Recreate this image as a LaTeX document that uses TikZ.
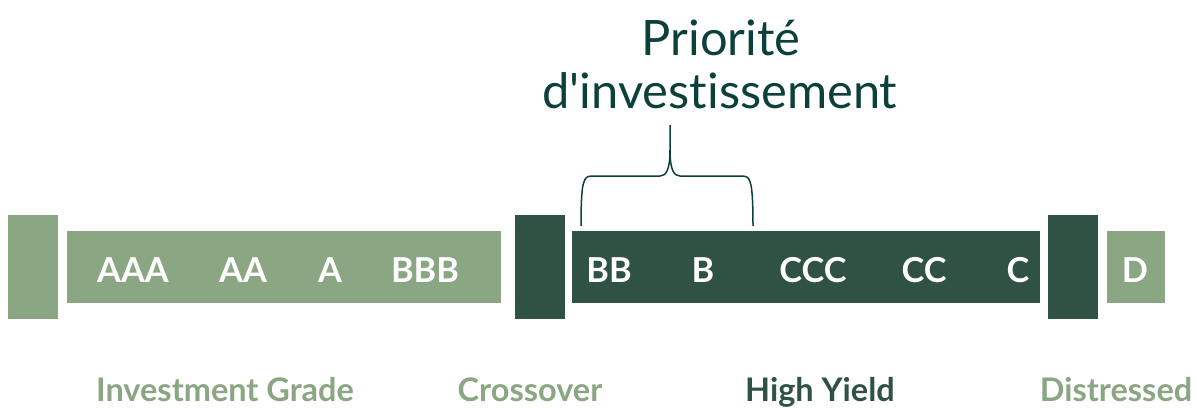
\documentclass[tikz,border=0pt]{standalone}
\usepackage{fontspec}
\setmainfont{Lato}
\newfontfamily\titlefont{Lato}[Ligatures={ResetAll,NoCommon}]
\definecolor{lightg}{HTML}{8AA682}
\definecolor{darkg}{HTML}{2F5244}
\definecolor{titlec}{HTML}{0B403B}
\begin{document}
\begin{tikzpicture}[x=1bp,y=-1bp,
  bar/.style={draw=none,inner sep=0pt,anchor=north west},
  rating/.style={text=white,font=\fontsize{34.5}{40}\selectfont\bfseries,anchor=base,inner sep=0pt},
  grp/.style={font=\fontsize{32.6}{38}\selectfont\bfseries,anchor=base,inner sep=0pt},
  ttl/.style={text=titlec,font=\titlefont\fontsize{49}{53}\selectfont,anchor=base,inner sep=0pt}]
\useasboundingbox[fill=white] (0,0) rectangle (1197,407);
% bars
\node[bar,fill=lightg,minimum width=50bp,minimum height=104bp] (b1) at (8,215) {};
\node[bar,fill=lightg,minimum width=434bp,minimum height=72bp] (ig) at (67,231) {};
\node[bar,fill=darkg,minimum width=50bp,minimum height=104bp] (b2) at (515,215) {};
\node[bar,fill=darkg,minimum width=468bp,minimum height=72bp] (hy) at (572,231) {};
\node[bar,fill=darkg,minimum width=50bp,minimum height=104bp] (b3) at (1048,215) {};
\node[bar,fill=lightg,minimum width=58bp,minimum height=72bp] (dd) at (1107,231) {};
% ratings
\node[rating] (aaa) at (133,282) {AAA};
\node[rating] (aa) at (243,282) {AA};
\node[rating] (a) at (330,282) {A};
\node[rating] (bbb) at (425,282) {BBB};
\node[rating] (bb) at (609,282) {BB};
\node[rating] (b) at (703,282) {B};
\node[rating] (ccc) at (813,282) {CCC};
\node[rating] (cc) at (924,282) {CC};
\node[rating] (c) at (1018,282) {C};
\node[rating] (d) at (1135,282) {D};
% group labels
\node[grp,text=lightg] (lig) at (225,401) {Investment Grade};
\node[grp,text=lightg] (lco) at (530,401) {Crossover};
\node[grp,text=darkg] (lhy) at (820,401) {High Yield};
\node[grp,text=lightg] (ldi) at (1116,401) {Distressed};
% title
\node[ttl] (t1) at (721,55) {Priorité};
\node[ttl] (t2) at (720,108) {d'investissement};
% brace
\draw[titlec,line width=1.5bp]
  (581,226) .. controls (581,200) and (582,186) .. (584,182)
  .. controls (585,178) and (587,176) .. (592,176) -- (660,176)
  .. controls (666,176) and (670,170) .. (670,150) -- (670,125);
\draw[titlec,line width=1.5bp]
  (753,226) .. controls (753,200) and (752,186) .. (750,182)
  .. controls (749,178) and (747,176) .. (742,176) -- (680,176)
  .. controls (674,176) and (670,170) .. (670,150);
\end{tikzpicture}
\end{document}
